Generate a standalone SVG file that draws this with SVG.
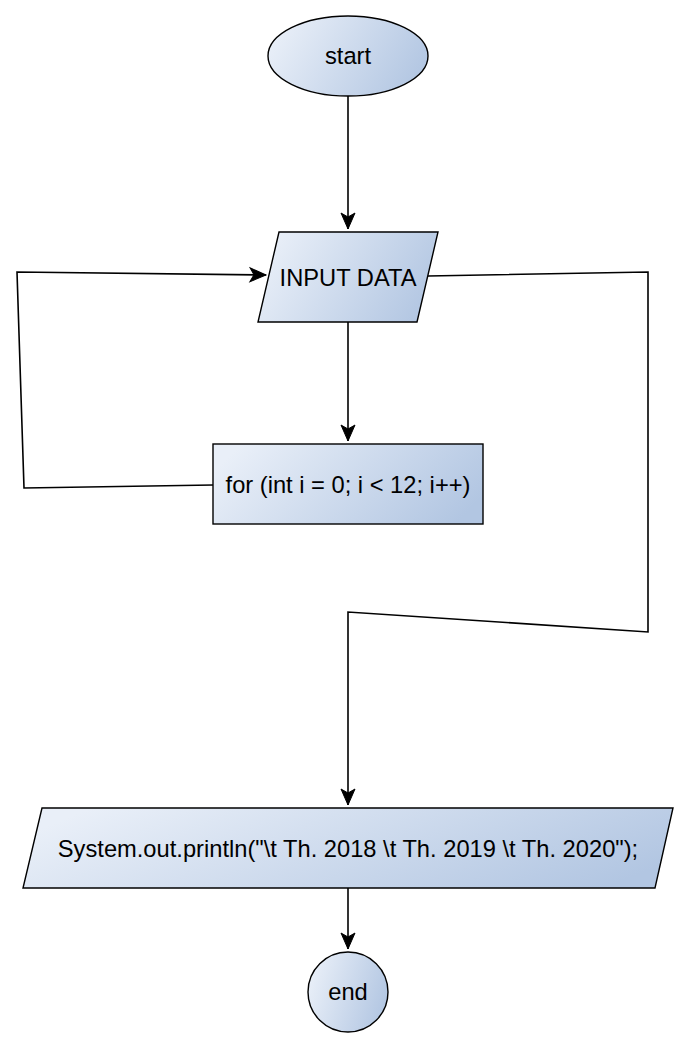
<svg xmlns="http://www.w3.org/2000/svg" width="690" height="1048" viewBox="0 0 690 1048">
<defs>
<linearGradient id="g" x1="0" y1="0.35" x2="1" y2="0.65">
<stop offset="0" stop-color="#e9eff8"/>
<stop offset="1" stop-color="#b2c6e2"/>
</linearGradient>
<marker id="arr" markerUnits="userSpaceOnUse" markerWidth="20" markerHeight="16" viewBox="-17 -8 20 16" refX="0" refY="0" orient="auto" overflow="visible">
<path d="M0,0 L-16,-7 L-12,0 L-16,7 Z" fill="#000" stroke="#000" stroke-width="1"/>
</marker>
</defs>
<style>
.shape{fill:url(#g);stroke:#000;stroke-width:1.4}
.lbl{font-family:"Liberation Sans",Arial,sans-serif;font-size:23.7px;fill:#000;text-anchor:middle}
.conn{fill:none;stroke:#000;stroke-width:1.6}
</style>
<g id="connectors">
<path class="conn" d="M348,96 L348,229" marker-end="url(#arr)"/>
<path class="conn" d="M348,322 L348,441" marker-end="url(#arr)"/>
<path class="conn" d="M213,485 L24,488 L17,272 L266,275" marker-end="url(#arr)"/>
<path class="conn" d="M428,276 L648,272 L648,632 L348,612 L348,805" marker-end="url(#arr)"/>
<path class="conn" d="M348,888 L348,949" marker-end="url(#arr)"/>
</g>
<g id="start">
<ellipse class="shape" cx="348" cy="56" rx="80" ry="40"/>
<text class="lbl" x="348" y="64">start</text>
</g>
<g id="input">
<polygon class="shape" points="279,232 438,232 417,322 258,322"/>
<text class="lbl" x="348" y="286">INPUT DATA</text>
</g>
<g id="for">
<rect class="shape" x="213" y="444" width="270" height="80"/>
<text class="lbl" x="348" y="493">for (int i = 0; i &lt; 12; i++)</text>
</g>
<g id="print">
<polygon class="shape" points="42,808 673,808 655,888 23,888"/>
<text class="lbl" x="348" y="857">System.out.println("\t Th. 2018 \t Th. 2019 \t Th. 2020");</text>
</g>
<g id="end">
<circle class="shape" cx="348" cy="992" r="40"/>
<text class="lbl" x="348" y="1000">end</text>
</g>
</svg>
